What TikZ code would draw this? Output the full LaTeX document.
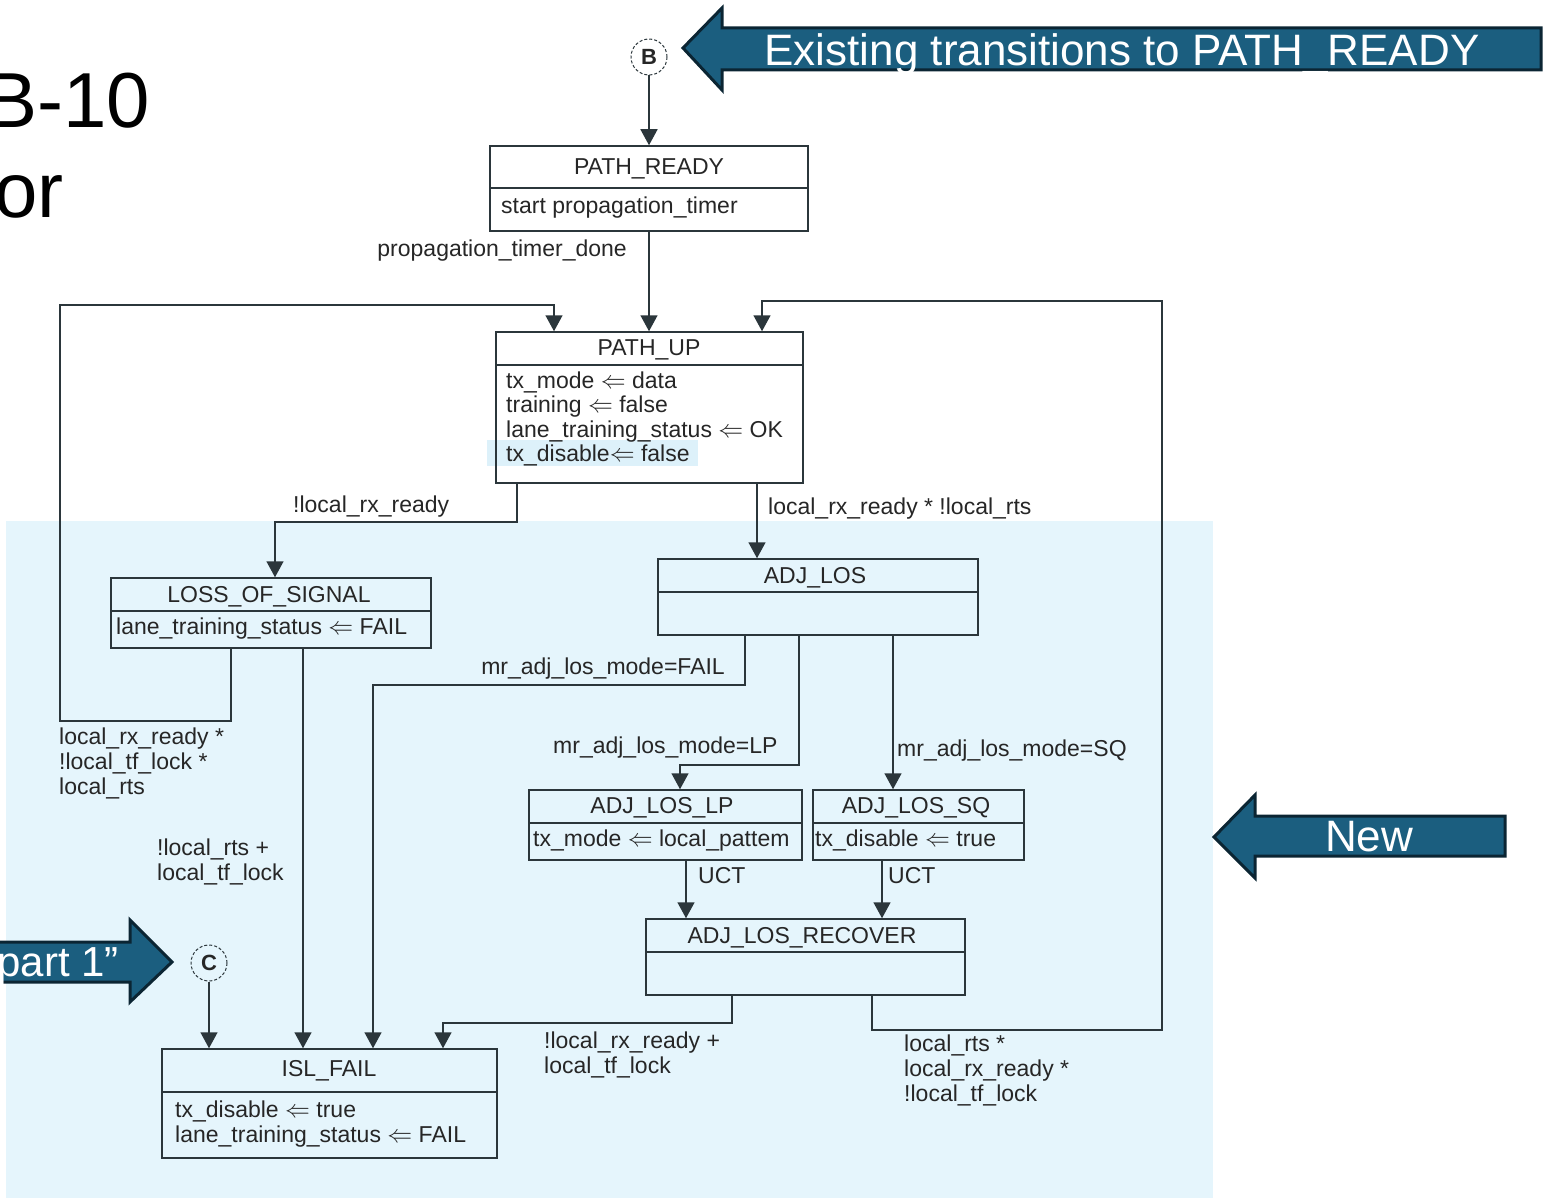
\documentclass[tikz,border=0pt]{standalone}
\usepackage{fontspec}
\setmainfont{Liberation Sans}
\usetikzlibrary{arrows.meta}

\definecolor{ln}{HTML}{2B363B}
\definecolor{tx}{HTML}{262626}
\definecolor{newbg}{HTML}{E5F5FC}
\definecolor{hl}{HTML}{DDF1FA}
\definecolor{bannerfill}{HTML}{1B5E7F}
\definecolor{bannerline}{HTML}{0B2533}

\tikzset{
  stbox/.style={draw=ln, line width=1.5pt, inner sep=0pt},
  divline/.style={draw=ln, line width=1.5pt},
  conn/.style={draw=ln, line width=1.5pt, -{Triangle[width=17pt,length=16pt]}},
  lbl/.style={text=tx, inner sep=0pt, font=\fontsize{23}{24.6}\selectfont, align=left},
  conncircle/.style={circle, draw=ln, line width=1pt, dash pattern=on 3pt off 2pt,
    minimum size=36pt, inner sep=0pt, text=tx, font=\bfseries\fontsize{22}{22}\selectfont},
  banner/.style={fill=bannerfill, draw=bannerline, line width=3pt, line join=miter},
  bannertext/.style={text=white, inner sep=0pt},
  bigtext/.style={text=black, inner sep=0pt, font=\fontsize{78}{90}\selectfont},
}

\begin{document}
\begin{tikzpicture}[x=1pt, y=-1pt]
\useasboundingbox (0,0) rectangle (1544,1198);
\clip (0,0) rectangle (1544,1198);

% shaded area for the new states
\fill[newbg] (6,521) rectangle (1213,1198);

% heading fragments
\node[bigtext, anchor=base east] (hdA) at (150,128) {B-10};
\node[bigtext, anchor=base east] (hdB) at (64,218) {or};

% banner arrows
\draw[banner] (683,48) -- (722,8) -- (722,28) -- (1541,28) -- (1541,70)
  -- (722,70) -- (722,90) -- cycle;
\node[bannertext, anchor=base, font=\fontsize{44}{44}\selectfont] (bnExist) at (1122,66)
  {Existing transitions to PATH\_READY};

\draw[banner] (1214,837) -- (1255,795) -- (1255,816) -- (1505,816) -- (1505,856)
  -- (1255,856) -- (1255,878) -- cycle;
\node[bannertext, anchor=base, font=\fontsize{44}{44}\selectfont] (bnNew) at (1369,851) {New};

\draw[banner] (172,962) -- (130,920) -- (130,942) -- (-10,942) -- (-10,982)
  -- (130,982) -- (130,1002) -- cycle;
\node[bannertext, anchor=base east, font=\fontsize{42}{42}\selectfont] (bnPart) at (119,976) {part 1”};

% highlighted action line in PATH_UP
\fill[hl] (487,440) rectangle (698,466);

% connector circles
\node[conncircle] (bnode) at (649,57) {B};
\node[conncircle] (cnode) at (209,963) {C};

% states
\node[stbox, minimum width=318pt, minimum height=85pt] (pready) at (649,188.5) {};
\draw[divline] (pready.west |- 0,188) -- (pready.east |- 0,188);
\node[lbl, anchor=base] (preadyT) at (649,175) {PATH\_READY};
\node[lbl, anchor=base west] (preadyB) at (501,214) {start propagation\_timer};

\node[stbox, minimum width=307pt, minimum height=151pt] (pup) at (649.5,407.5) {};
\draw[divline] (pup.west |- 0,365) -- (pup.east |- 0,365);
\node[lbl, anchor=base] (pupT) at (649,355) {PATH\_UP};
\node[lbl, anchor=base west] (pupB1) at (506,388) {tx\_mode $\Leftarrow$ data};
\node[lbl, anchor=base west] (pupB2) at (506,412.5) {training $\Leftarrow$ false};
\node[lbl, anchor=base west] (pupB3) at (506,437) {lane\_training\_status $\Leftarrow$ OK};
\node[lbl, anchor=base west] (pupB4) at (506,461.5) {tx\_disable$\Leftarrow$ false};

\node[stbox, minimum width=320pt, minimum height=70pt] (los) at (271,613) {};
\draw[divline] (los.west |- 0,611) -- (los.east |- 0,611);
\node[lbl, anchor=base] (losT) at (269,602) {LOSS\_OF\_SIGNAL};
\node[lbl, anchor=base west] (losB) at (116,634) {lane\_training\_status $\Leftarrow$ FAIL};

\node[stbox, minimum width=320pt, minimum height=76pt] (adj) at (818,597) {};
\draw[divline] (adj.west |- 0,592) -- (adj.east |- 0,592);
\node[lbl, anchor=base] (adjT) at (815,583) {ADJ\_LOS};

\node[stbox, minimum width=273pt, minimum height=70pt] (lp) at (665.5,825) {};
\draw[divline] (lp.west |- 0,823) -- (lp.east |- 0,823);
\node[lbl, anchor=base] (lpT) at (662,813) {ADJ\_LOS\_LP};
\node[lbl, anchor=base west] (lpB) at (533,846) {tx\_mode $\Leftarrow$ local\_pattem};

\node[stbox, minimum width=211pt, minimum height=70pt] (sq) at (918.5,825) {};
\draw[divline] (sq.west |- 0,823) -- (sq.east |- 0,823);
\node[lbl, anchor=base] (sqT) at (916,813) {ADJ\_LOS\_SQ};
\node[lbl, anchor=base west] (sqB) at (815,846) {tx\_disable $\Leftarrow$ true};

\node[stbox, minimum width=319pt, minimum height=76pt] (rec) at (805.5,957) {};
\draw[divline] (rec.west |- 0,952) -- (rec.east |- 0,952);
\node[lbl, anchor=base] (recT) at (802,943) {ADJ\_LOS\_RECOVER};

\node[stbox, minimum width=335pt, minimum height=109pt] (isl) at (329.5,1103.5) {};
\draw[divline] (isl.west |- 0,1092) -- (isl.east |- 0,1092);
\node[lbl, anchor=base] (islT) at (329,1076) {ISL\_FAIL};
\node[lbl, anchor=base west] (islB1) at (175,1117) {tx\_disable $\Leftarrow$ true};
\node[lbl, anchor=base west] (islB2) at (175,1142) {lane\_training\_status $\Leftarrow$ FAIL};

% transitions
\draw[conn] (bnode.south) -- (bnode.south |- pready.north);
\draw[conn] (pready.south) -- (pready.south |- pup.north);
\draw[conn] (231,0 |- los.south) |- (60,721) |- (554,305) -- (554,0 |- pup.north);
\draw[conn] (872,0 |- rec.south) |- (1162,1030) |- (762,301) -- (762,0 |- pup.north);
\draw[conn] (517,0 |- pup.south) |- (275,522) -- (275,0 |- los.north);
\draw[conn] (757,0 |- pup.south) -- (757,0 |- adj.north);
\draw[conn] (303,0 |- los.south) -- (303,0 |- isl.north);
\draw[conn] (745,0 |- adj.south) |- (373,685) -- (373,0 |- isl.north);
\draw[conn] (799,0 |- adj.south) |- (680,765) -- (680,0 |- lp.north);
\draw[conn] (893,0 |- adj.south) -- (893,0 |- sq.north);
\draw[conn] (686,0 |- lp.south) -- (686,0 |- rec.north);
\draw[conn] (882,0 |- sq.south) -- (882,0 |- rec.north);
\draw[conn] (732,0 |- rec.south) |- (443,1023) -- (443,0 |- isl.north);
\draw[conn] (cnode.south) -- (cnode.south |- isl.north);

% transition conditions (multi-line nodes: base anchor is the last line)
\node[lbl, anchor=base east] (cPtd) at (627,257) {propagation\_timer\_done};
\node[lbl, anchor=base west] (cNrx) at (293,512) {!local\_rx\_ready};
\node[lbl, anchor=base west] (cRxRts) at (768,514) {local\_rx\_ready * !local\_rts};
\node[lbl, anchor=base east] (cFail) at (725,674) {mr\_adj\_los\_mode=FAIL};
\node[lbl, anchor=base west] (cLp) at (553,753) {mr\_adj\_los\_mode=LP};
\node[lbl, anchor=base west] (cSq) at (897,756) {mr\_adj\_los\_mode=SQ};
\node[lbl, anchor=base west] (cUct1) at (698,883) {UCT};
\node[lbl, anchor=base west] (cUct2) at (888,883) {UCT};
\node[lbl, anchor=base west] (cLoopL) at (59,794)
  {local\_rx\_ready *\\!local\_tf\_lock *\\local\_rts};
\node[lbl, anchor=base west] (cLosIsl) at (157,880) {!local\_rts +\\local\_tf\_lock};
\node[lbl, anchor=base west] (cRecIsl) at (544,1073) {!local\_rx\_ready +\\local\_tf\_lock};
\node[lbl, anchor=base west] (cLoopR) at (904,1101)
  {local\_rts *\\local\_rx\_ready *\\!local\_tf\_lock};
\end{tikzpicture}
\end{document}
